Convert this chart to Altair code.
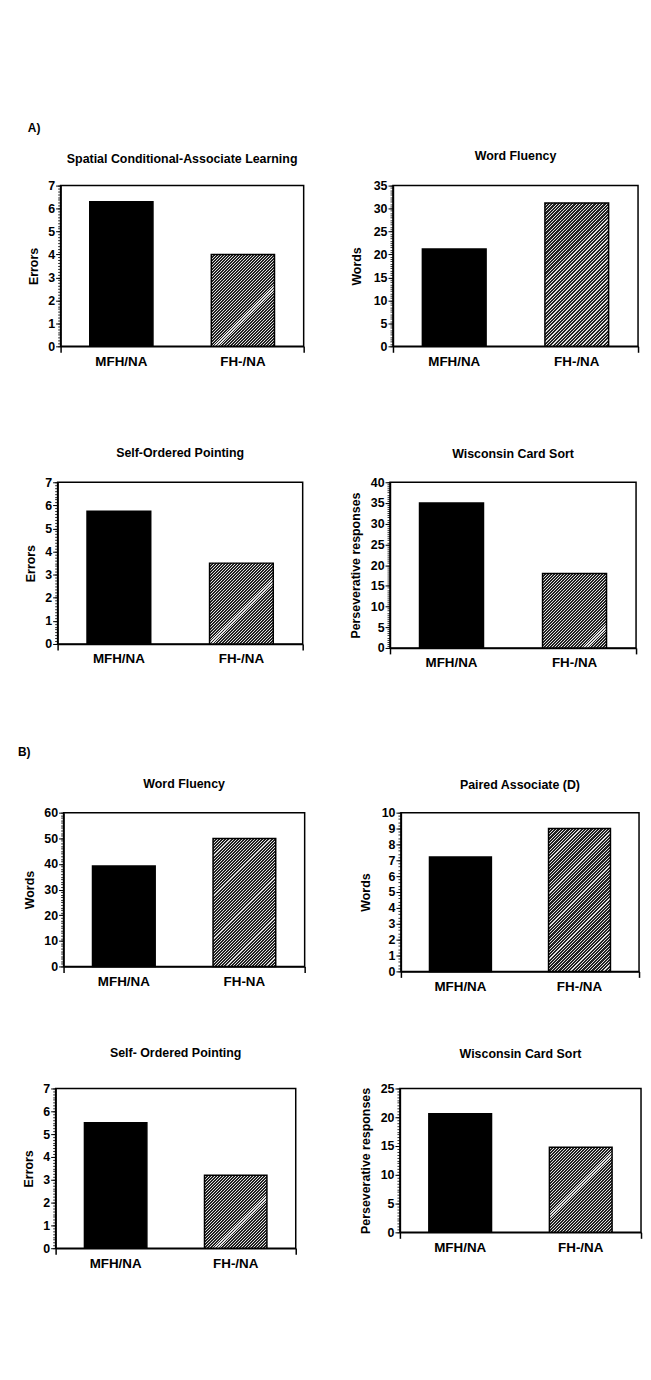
import altair as alt
import pandas as pd
import numpy as np

FONT = "Liberation Sans"

# ---------------- data ----------------
panel_titles = ["Spatial Conditional-Associate Learning", "Word Fluency",
                "Self-Ordered Pointing", "Wisconsin Card Sort",
                "Word Fluency", "Paired Associate (D)",
                "Self- Ordered Pointing", "Wisconsin Card Sort"]
y_titles = ["Errors", "Words", "Errors", "Perseverative responses",
            "Words", "Words", "Errors", "Perseverative responses"]
y_max = [7, 35, 7, 40, 60, 10, 7, 25]
y_step = [1, 5, 1, 5, 10, 1, 1, 5]
first_group = ["MFH/NA", "MFH/NA", "MFH/NA", "MFH/NA",
               "MFH/NA", "MFH/NA", "MFH/NA", "MFH/NA"]
second_group = ["FH-/NA", "FH-/NA", "FH-/NA", "FH-/NA",
                "FH-NA", "FH-/NA", "FH-/NA", "FH-/NA"]
mfh_values = [6.3, 21.2, 5.75, 35.0, 39.2, 7.2, 5.5, 20.6]
fh_values = [4.0, 31.2, 3.5, 18.0, 49.9, 9.0, 3.2, 14.8]
section_labels = ["A)", "B)"]

# ---------------- layout / style ----------------
panel_w = [245, 247, 247, 248, 243, 240, 242, 243]
panel_h = [162, 162, 163, 167, 155, 160, 161, 145]
title_offset = [14, 17, 17, 16, 16, 15, 23, 22]
ytitle_x = [-27.5, -37, -27, -34.5, -34, -36, -27, -35]
minor_step = [0.125, 0.5, 0.125, 0.5, 1, 0.2, 0.125, 0.5]
row_left = [52, 49, 55, 47]
row_mid = [90, 88, 97, 105]
row_h = [162, 167, 160, 161]
# vertical distance from the top of one block to the top of the next
gaps = [173, 162 + 137, 167 + 166, 160 + 118]
BAND = 0.52
DARK, LIGHT = "#222222", "#e2e2e2"


def hatch(w, h):
    # diagonal hatching as a striped linear gradient,
    # stripes aligned on a 255-step colour table: dark + thin light line
    q = 255.0
    period = max(3.0, (w + h) / 63.0 + 0.05)
    span = period * q / 4.0          # pixels (along x+y) for t = 0..1
    s = span / (w * w + h * h)
    stops = []
    for k in range(64):
        t0, t1, t2 = 4 * k / q, (4 * k + 2.6) / q, (4 * k + 4) / q
        stops += [{"offset": min(t0, 1), "color": DARK},
                  {"offset": min(t1, 1), "color": DARK},
                  {"offset": min(t1, 1), "color": LIGHT},
                  {"offset": min(t2, 1), "color": LIGHT}]
    return {"gradient": "linear", "x1": 0, "y1": 0, "x2": s * w, "y2": s * h,
            "stops": stops}


def panel(i):
    W, H = panel_w[i], panel_h[i]
    groups = [first_group[i], second_group[i]]
    df = pd.DataFrame({"group": groups, "value": [mfh_values[i], fh_values[i]]})
    bw = BAND * W / 2
    bh = fh_values[i] / y_max[i] * H
    yscale = alt.Scale(domain=[0, y_max[i]], nice=False, zero=True)
    major = list(np.arange(0, y_max[i] + 0.001, y_step[i]).round(3))
    minor = list(np.arange(0, y_max[i] + 0.001, minor_step[i]).round(4))

    x_axis = alt.Axis(
        title="", labelAngle=0, labelFont=FONT, labelFontSize=13.5,
        labelFontWeight="bold", labelColor="black", labelPadding=2,
        domain=True, domainColor="black", domainWidth=1.5,
        ticks=True, tickSize=6, tickColor="black", tickWidth=1.5,
        bandPosition=1, tickExtra=True,
        tickOpacity={"condition": {"test": "datum.index === 0", "value": 0}, "value": 1},
    )
    y_axis = alt.Axis(
        orient="left", values=major, grid=False,
        labelFont=FONT, labelFontSize=12.5, labelFontWeight="bold",
        labelColor="black", labelPadding=1,
        tickSize=5, tickColor="black", tickWidth=1,
        domain=True, domainColor="black", domainWidth=1.5,
        title=y_titles[i], titleFont=FONT, titleFontSize=12.5,
        titleFontWeight="bold", titleColor="black",
        titleX=ytitle_x[i], titleY=H / 2, titleAngle=270,
        titleAlign="center", titleBaseline="middle",
    )
    minor_axis = alt.Axis(
        orient="left", values=minor, grid=False, labels=False, domain=False,
        tickSize=3, tickColor="black", tickWidth=0.8, title="",
    )

    bars = alt.Chart(df).mark_bar(
        width=alt.RelativeBandSize(BAND), stroke="black", strokeWidth=1.5
    ).encode(
        x=alt.X("group:N", sort=groups,
                scale=alt.Scale(paddingInner=0, paddingOuter=0), axis=x_axis),
        y=alt.Y("value:Q", scale=yscale, axis=y_axis),
        fill=alt.condition(alt.datum.group == groups[0],
                           alt.value("black"), alt.value(hatch(bw, bh))),
    )
    minor_layer = alt.Chart(df).mark_point(opacity=0).encode(
        y=alt.Y("value:Q", scale=yscale, axis=minor_axis)
    )
    return alt.layer(bars, minor_layer).resolve_axis(y="independent").properties(
        width=W, height=H,
        title=alt.TitleParams(panel_titles[i], font=FONT, fontSize=12.5,
                              fontWeight="bold", color="black", anchor="middle",
                              frame="group", offset=title_offset[i]),
        view=alt.ViewBackground(stroke="black", strokeWidth=1.5),
    )


def spacer(w, h, label="", lx=0, ly=0, stroke="transparent"):
    return alt.Chart(pd.DataFrame({"label": [label]})).mark_text(
        align="left", baseline="middle", font=FONT, fontSize=12,
        fontWeight="bold", color="black"
    ).encode(
        text="label:N", x=alt.value(lx), y=alt.value(ly)
    ).properties(width=w, height=h,
                 view=alt.ViewBackground(stroke=stroke, strokeWidth=0.5))


def row(r):
    return alt.hconcat(
        spacer(row_left[r], row_h[r]), panel(2 * r),
        spacer(row_mid[r], row_h[r]), panel(2 * r + 1),
        spacing=0, bounds="flush",
    )


chart = alt.vconcat(
    spacer(600, gaps[0], section_labels[0], 19, 115, stroke="white"),
    row(0),
    spacer(600, gaps[1]),
    row(1),
    spacer(600, gaps[2], section_labels[1], 9, 272),
    row(2),
    spacer(600, gaps[3]),
    row(3),
    spacing=0, bounds="flush",
).properties(padding=0).configure(font=FONT).configure_view(stroke="transparent")

chart.save("out.html", embed_options={"renderer": "svg", "actions": False})
